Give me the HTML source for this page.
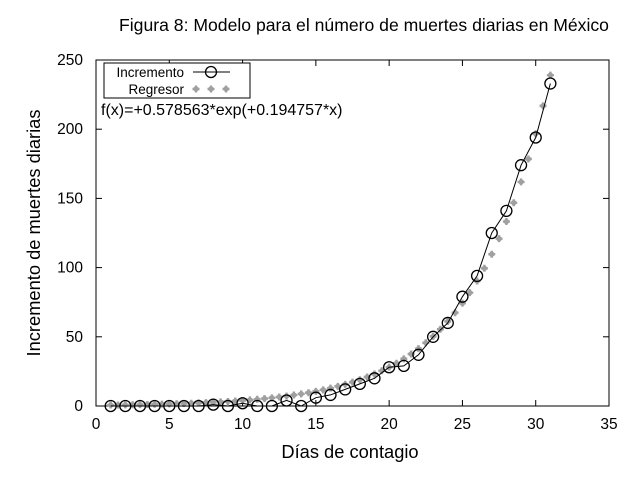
<!DOCTYPE html>
<html><head><meta charset="utf-8"><style>
body{margin:0;background:#fff}
svg text{font-family:"Liberation Sans",Arial,sans-serif;fill:#000}
</style></head><body>
<svg id="s" width="640" height="480" xmlns="http://www.w3.org/2000/svg">
<rect width="640" height="480" fill="#fff"/>
<text x="364" y="31" font-size="17.6" text-anchor="middle">Figura 8: Modelo para el número de muertes diarias en México</text>
<text x="350" y="458" font-size="18.3" text-anchor="middle">Días de contagio</text>
<text transform="translate(40,233) rotate(-90)" font-size="18.3" text-anchor="middle">Incremento de muertes diarias</text>
<g id="ax" stroke="#000" stroke-width="1" fill="none"></g>
<g id="tl" font-size="15.5"></g>
<g id="reg" fill="#a0a0a0"></g>
<polyline id="ln" fill="none" stroke="#000" stroke-width="1"/>
<g id="circ" fill="none" stroke="#000" stroke-width="1.3"></g>
<rect x="104" y="63" width="146" height="35" fill="#fff" stroke="#000"/>
<text x="184" y="77" font-size="13.5" text-anchor="end">Incremento</text>
<text x="184" y="94" font-size="13.5" text-anchor="end">Regresor</text>
<line x1="193" y1="72" x2="230" y2="72" stroke="#000"/>
<circle cx="211" cy="72" r="5.5" fill="none" stroke="#000" stroke-width="1.3"/>
<g id="lg" fill="#a0a0a0"></g>
<text x="101" y="115" font-size="16">f(x)=+0.578563*exp(+0.194757*x)</text>
</svg>
<script>
var L=96,R=609,T=60,B=406;
function X(v){return L+v*(R-L)/35}
function Y(v){return B-v*(B-T)/250}
var ns="http://www.w3.org/2000/svg";
function el(p,t,a){var e=document.createElementNS(ns,t);for(var k in a)e.setAttribute(k,a[k]);document.getElementById(p).appendChild(e);return e}
function star(p,x,y){el(p,"path",{d:"M"+(x-3.5)+","+(y-1.2)+"h7v2.4h-7zM"+(x-1.2)+","+(y-3.5)+"h2.4v7h-2.4z"});el(p,"circle",{cx:x,cy:y,r:2.7});}
el("ax","rect",{x:L,y:T,width:R-L,height:B-T});
for(var i=0;i<=35;i+=5){var x=X(i);el("ax","line",{x1:x,y1:B,x2:x,y2:B-6});el("ax","line",{x1:x,y1:T,x2:x,y2:T+6});
var t=el("tl","text",{x:x,y:B+23,"text-anchor":"middle"});t.textContent=i;}
for(var j=0;j<=250;j+=50){var y=Y(j);el("ax","line",{x1:L,y1:y,x2:L+6,y2:y});el("ax","line",{x1:R,y1:y,x2:R-6,y2:y});
var t=el("tl","text",{x:L-13,y:y+5,"text-anchor":"end"});t.textContent=j;}
for(var v=1;v<=31.01;v+=0.5){var f=0.578563*Math.exp(0.194757*(v-0.07));star("reg",X(v),Y(f));}
star("lg",196,89);star("lg",211,89);star("lg",226,89);
var d=[0,0,0,0,0,0,0,1,0,2,0,0,4,0,6,8,12,16,20,28,29,37,50,60,79,94,125,141,174,194,233];
var pts=[];for(var k=0;k<d.length;k++){var x=X(k+1),y=Y(d[k]);pts.push(x+","+y);el("circ","circle",{cx:x,cy:y,r:5.5});}
document.getElementById("ln").setAttribute("points",pts.join(" "));
</script>
</body></html>
